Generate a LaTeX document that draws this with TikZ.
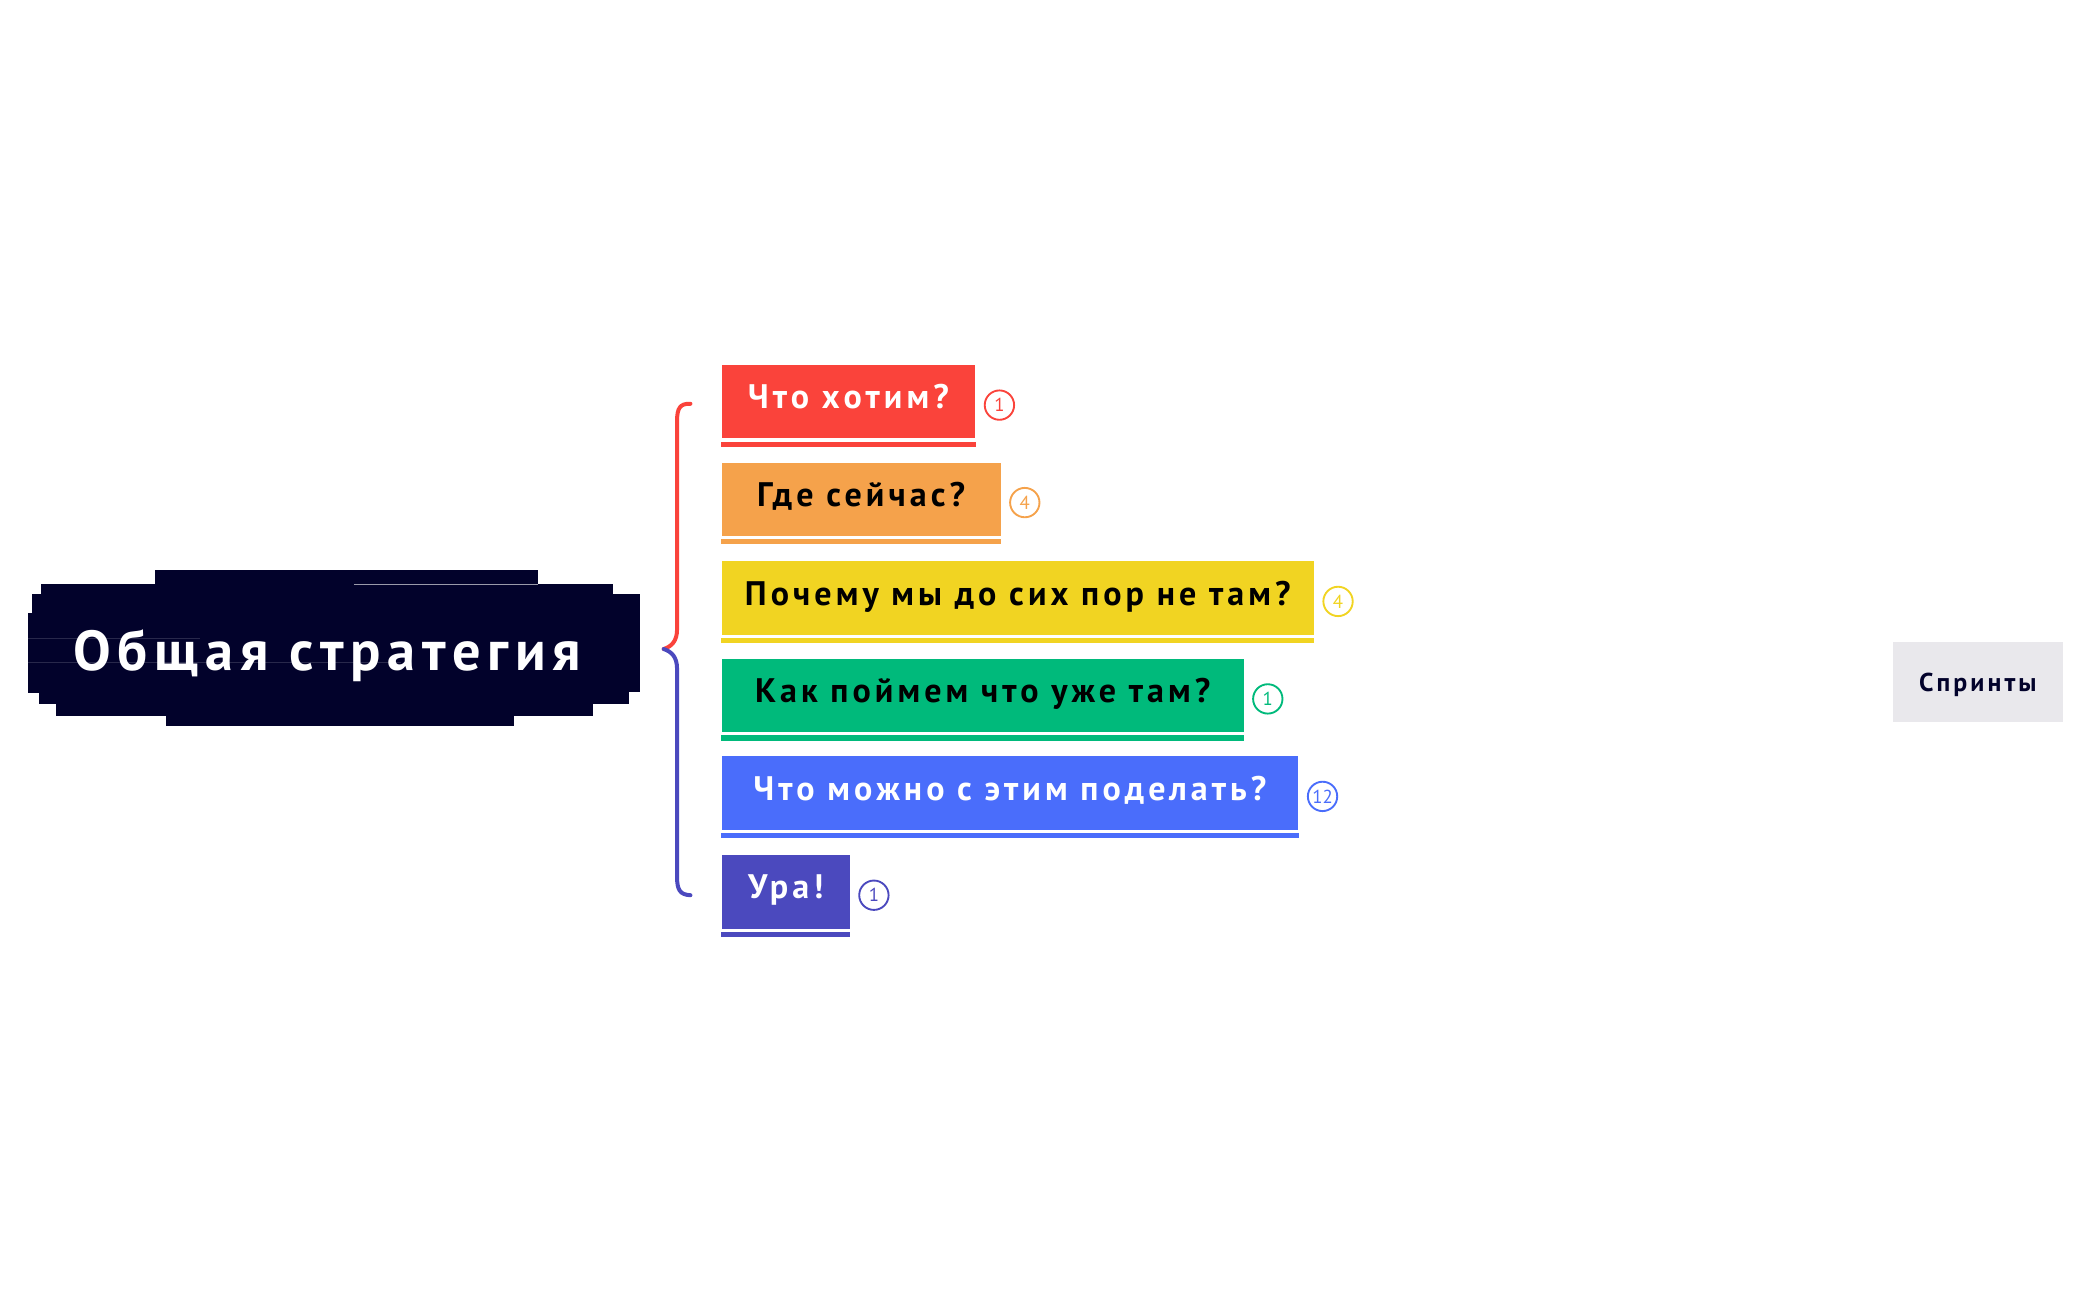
\documentclass[tikz,border=0pt]{standalone}
\usepackage{fontspec}
\usepackage{tikz}
\usetikzlibrary{positioning}
\newfontfamily\hand[LetterSpace=12]{PT Sans}
\newfontfamily\numfont{PT Sans}
\definecolor{ink}{HTML}{02022B}
\definecolor{rouge}{HTML}{FA433B}
\definecolor{peach}{HTML}{F5A24B}
\definecolor{lemon}{HTML}{F1D422}
\definecolor{mint}{HTML}{00BA7B}
\definecolor{sky}{HTML}{4A6DFB}
\definecolor{grape}{HTML}{4B49BE}
\definecolor{mist}{HTML}{E9E8EC}
\tikzset{
  topic/.style={anchor=north west,inner xsep=0.35cm,inner ysep=0pt,minimum height=1.1cm,
    text height=10pt,text depth=4pt,font=\hand\bfseries\fontsize{14.5}{16}\selectfont},
  num/.style={circle,draw,line width=0.8pt,minimum size=0.44cm,inner sep=0pt,
    font=\numfont\fontsize{8}{9}\selectfont},
  brace/.style={line width=1.7pt,line cap=round,line join=round},
  sprint/.style={fill=mist,minimum width=2.54cm,minimum height=1.2cm,text=ink,
    text height=8pt,text depth=0pt,font=\hand\bfseries\fontsize{11}{13}\selectfont}
}
\begin{document}
\begin{tikzpicture}[x=0.02cm,y=-0.02cm]
\useasboundingbox (0,0) rectangle (1568,973);
% central topic, rough ink patch
\fill[ink] (116,427) rectangle (403,440);
\fill[ink] (31,437) rectangle (459,446);
\fill[ink] (24,445) rectangle (479,518);
\fill[ink] (21,459) rectangle (30,519);
\fill[ink] (29,517) rectangle (471,527);
\fill[ink] (42,526) rectangle (444,536);
\fill[ink] (124,535) rectangle (385,544);
\draw[white!60!ink,line width=0.4pt] (265,437.5) -- (403,437.5);
\draw[white!15!ink,line width=0.3pt] (21,478) -- (150,478);
\draw[white!15!ink,line width=0.3pt] (21,496) -- (300,496);
\node[text=white,text height=17pt,text depth=0pt,font=\hand\bfseries\fontsize{24}{28}\selectfont] (strat) at (245,487) {Общая стратегия};
% subtopics
\node[topic,fill=rouge,text=white,minimum width=3.8cm] (q1) at (540,273) {Что хотим?};
\node[topic,fill=peach,text=black,minimum width=4.18cm] (q2) at (540,346) {Где сейчас?};
\node[topic,fill=lemon,text=black,minimum width=8.84cm] (q3) at (540,420) {Почему мы до сих пор не там?};
\node[topic,fill=mint,text=black,minimum width=7.82cm] (q4) at (540,493) {Как поймем что уже там?};
\node[topic,fill=sky,text=white,minimum width=8.64cm] (q5) at (540,566) {Что можно с этим поделать?};
\node[topic,fill=grape,text=white,minimum width=1.92cm] (q6) at (540,640) {Ура!};
% thin strokes under the patches
\fill[rouge] ([yshift=-0.04cm]q1.south west) rectangle ([yshift=-0.12cm]q1.south east);
\fill[peach] ([yshift=-0.04cm]q2.south west) rectangle ([yshift=-0.12cm]q2.south east);
\fill[lemon] ([yshift=-0.04cm]q3.south west) rectangle ([yshift=-0.12cm]q3.south east);
\fill[mint] ([yshift=-0.04cm]q4.south west) rectangle ([yshift=-0.12cm]q4.south east);
\fill[sky] ([yshift=-0.04cm]q5.south west) rectangle ([yshift=-0.12cm]q5.south east);
\fill[grape] ([yshift=-0.04cm]q6.south west) rectangle ([yshift=-0.12cm]q6.south east);
% counters
\node[num,draw=rouge,text=rouge,right=0.12cm of q1,yshift=-0.05cm] (n1) {1};
\node[num,draw=peach,text=peach,right=0.12cm of q2,yshift=-0.05cm] (n2) {4};
\node[num,draw=lemon,text=lemon,right=0.12cm of q3,yshift=-0.05cm] (n3) {4};
\node[num,draw=mint,text=mint,right=0.12cm of q4,yshift=-0.05cm] (n4) {1};
\node[num,draw=sky,text=sky,right=0.12cm of q5,yshift=-0.05cm] (n5) {12};
\node[num,draw=grape,text=grape,right=0.12cm of q6,yshift=-0.05cm] (n6) {1};
% brace
\coordinate (tip) at (497,486);
\coordinate (top) at ([xshift=-0.46cm,yshift=-0.03cm]q1.west);
\coordinate (bot) at ([xshift=-0.46cm,yshift=-0.05cm]q6.west);
\draw[brace,rouge] (top) .. controls (509,302) and (507,306) .. (507,315) -- (507,471) .. controls (507,480) and (503,484) .. (tip);
\draw[brace,grape] (tip) .. controls (503,488) and (507,492) .. (507,501) -- (507,657) .. controls (507,666) and (509,670) .. (bot);
% floating topic
\node[sprint] (spr) at (1481,511) {Спринты};
\end{tikzpicture}
\end{document}
